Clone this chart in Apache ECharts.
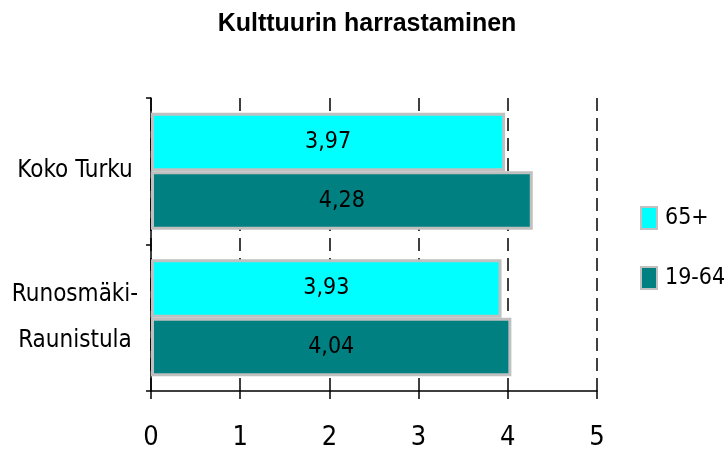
<!DOCTYPE html>
<html>
<head>
<meta charset="utf-8">
<script src="https://cdn.jsdelivr.net/npm/echarts@6/dist/echarts.min.js"></script>
<style>
  html, body { margin: 0; padding: 0; background: #fff; }
  #chart { width: 728px; height: 453px; }
</style>
</head>
<body>
<div id="chart"></div>
<script>
// data
var categories = ['Koko Turku', 'Runosmäki-\nRaunistula'];
var seriesNames = ['65+', '19-64'];
var values65 = [3.97, 3.93];
var values1964 = [4.28, 4.04];
var tickLabels = ['0', '1', '2', '3', '4', '5'];

var narrow = "'DejaVu Sans Condensed', 'Liberation Sans', sans-serif";
var colors = ['#00ffff', '#008080'];

var chart = echarts.init(document.getElementById('chart'));

function fmt(v) {
  return String(v.toFixed(2)).replace('.', ',');
}

var labelOpt = {
  show: true,
  position: 'inside',
  color: '#000',
  fontFamily: narrow,
  fontSize: 23,
  formatter: function (p) { return fmt(p.value); }
};

var option = {
  animation: false,
  backgroundColor: '#fff',
  title: {
    text: 'Kulttuurin harrastaminen',
    left: 362,
    top: 7,
    textAlign: 'center',
    textStyle: { fontFamily: "'Liberation Sans', Arial, sans-serif", fontWeight: 'bold', fontSize: 25, color: '#000' }
  },
  legend: {
    orient: 'vertical',
    left: 635,
    top: 201,
    icon: 'rect',
    itemWidth: 16,
    itemHeight: 22,
    itemGap: 36,
    data: seriesNames,
    textStyle: { fontFamily: narrow, fontSize: 23, color: '#000', padding: [0, 0, 0, 3] }
  },
  grid: { left: 151, right: 131, top: 98, bottom: 62 },
  xAxis: {
    type: 'value',
    min: 0,
    max: 5,
    interval: 1,
    axisLine: { show: true, lineStyle: { color: '#000', width: 1.5 } },
    axisTick: { show: true, length: 8, lineStyle: { color: '#000', width: 1.5 } },
    axisLabel: {
      color: '#000', fontFamily: narrow, fontSize: 27, margin: 33,
      formatter: function (v) { return tickLabels[v]; }
    },
    splitLine: { show: true, lineStyle: { color: '#000', type: [13, 7], width: 1.5 } }
  },
  yAxis: {
    type: 'category',
    inverse: true,
    data: categories,
    axisLine: { show: true, lineStyle: { color: '#000', width: 1.5 } },
    axisTick: { show: true, length: 5, lineStyle: { color: '#000', width: 1.5 } },
    axisLabel: {
      color: '#000', fontFamily: narrow, fontSize: 24, lineHeight: 46,
      align: 'center', margin: 76, padding: [0, 0, 4, 0]
    }
  },
  series: [
    {
      name: seriesNames[0],
      type: 'bar',
      data: values65,
      barGap: '0%',
      barCategoryGap: '20%',
      itemStyle: { color: colors[0], borderColor: '#c0c0c0', borderWidth: 3 },
      label: labelOpt
    },
    {
      name: seriesNames[1],
      type: 'bar',
      data: values1964,
      itemStyle: { color: colors[1], borderColor: '#c0c0c0', borderWidth: 3 },
      label: labelOpt
    }
  ]
};

chart.setOption(option);
</script>
</body>
</html>
